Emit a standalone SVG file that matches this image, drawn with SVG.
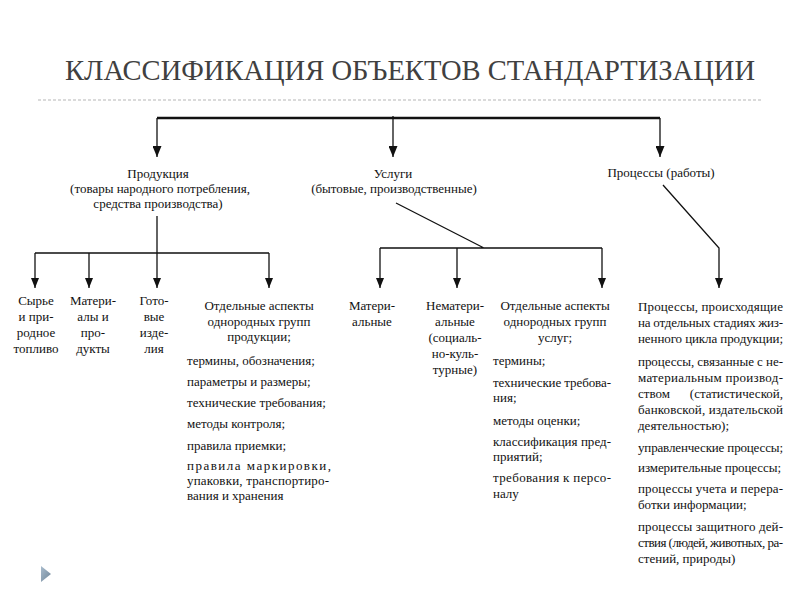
<svg xmlns="http://www.w3.org/2000/svg" width="800" height="600" viewBox="0 0 800 600">
<style>
.t{font-family:"Liberation Serif","DejaVu Serif","Noto Serif",serif;font-size:13px;fill:#111}
.c{text-anchor:middle}
.ttl{font-family:"Liberation Serif","DejaVu Serif","Noto Serif",serif;font-size:30px;fill:#404040}
.ln{stroke:#111;fill:none;stroke-width:1.3}
.bold{stroke-width:2.4}
</style>
<defs>
<marker id="ah" viewBox="0 0 10 8" refX="10" refY="4" markerWidth="10" markerHeight="8" markerUnits="userSpaceOnUse" orient="auto">
<path d="M0,0 L10,4 L0,8 Z" fill="#111"/>
</marker>
<marker id="ahb" viewBox="0 0 11 9" refX="11" refY="4.5" markerWidth="11" markerHeight="9" markerUnits="userSpaceOnUse" orient="auto">
<path d="M0,0 L11,4.5 L0,9 Z" fill="#111"/>
</marker>
<linearGradient id="tri" x1="0" y1="0" x2="1" y2="1">
<stop offset="0" stop-color="#a9bccd"/>
<stop offset="1" stop-color="#6f8598"/>
</linearGradient>
</defs>
<rect width="800" height="600" fill="#fff"/>

<g id="title">
<text class="ttl" x="65" y="80" textLength="690" lengthAdjust="spacingAndGlyphs">КЛАССИФИКАЦИЯ ОБЪЕКТОВ СТАНДАРТИЗАЦИИ</text>
<line x1="38" y1="100" x2="762" y2="100" stroke="#b5b5b5" stroke-width="1" stroke-dasharray="3,2"/>
</g>

<g id="connectors">
<path class="ln bold" d="M157,118 H660"/>
<path class="ln" stroke-width="2" d="M157,118 V157" marker-end="url(#ahb)"/>
<path class="ln" stroke-width="2" d="M393,116 V157" marker-end="url(#ahb)"/>
<path class="ln" stroke-width="2" d="M660,118 V157" marker-end="url(#ahb)"/>

<path class="ln" d="M157,216 V253 M35,253 H269"/>
<path class="ln" d="M35,253 V288" marker-end="url(#ah)"/>
<path class="ln" d="M89,253 V288" marker-end="url(#ah)"/>
<path class="ln" d="M157,253 V288" marker-end="url(#ah)"/>
<path class="ln" d="M269,253 V288" marker-end="url(#ah)"/>

<path class="ln" d="M396,203 L484,248 M380,248 H602"/>
<path class="ln" d="M380,248 V288" marker-end="url(#ah)"/>
<path class="ln" d="M457,248 V288" marker-end="url(#ah)"/>
<path class="ln" d="M602,248 V288" marker-end="url(#ah)"/>

<path class="ln" d="M663,185 L719,248 V288" marker-end="url(#ah)"/>
</g>

<g id="node-produkciya">
<text class="t c" x="158" y="178">Продукция</text>
<text class="t c" x="160" y="193">(товары народного потребления,</text>
<text class="t c" x="158" y="208">средства производства)</text>
</g>

<g id="node-uslugi">
<text class="t c" x="393" y="178">Услуги</text>
<text class="t c" x="394" y="193">(бытовые, производственные)</text>
</g>

<g id="node-processy">
<text class="t c" x="661" y="177">Процессы (работы)</text>
</g>

<g id="node-syrye">
<text class="t c" x="36" y="305">Сырье</text>
<text class="t c" x="36" y="321">и при-</text>
<text class="t c" x="36" y="337">родное</text>
<text class="t c" x="36" y="353">топливо</text>
</g>

<g id="node-materialy">
<text class="t c" x="93" y="305">Матери-</text>
<text class="t c" x="93" y="321">алы и</text>
<text class="t c" x="93" y="337">про-</text>
<text class="t c" x="93" y="353">дукты</text>
</g>

<g id="node-gotovye">
<text class="t c" x="154" y="305">Гото-</text>
<text class="t c" x="154" y="321">вые</text>
<text class="t c" x="154" y="337">изде-</text>
<text class="t c" x="154" y="353">лия</text>
</g>

<g id="node-aspekty-produkcii">
<text class="t c" x="259" y="310">Отдельные аспекты</text>
<text class="t c" x="259" y="326">однородных групп</text>
<text class="t c" x="259" y="341">продукции;</text>
<text class="t" x="187" y="365">термины, обозначения;</text>
<text class="t" x="187" y="386">параметры и размеры;</text>
<text class="t" x="187" y="407">технические требования;</text>
<text class="t" x="187" y="428">методы контроля;</text>
<text class="t" x="187" y="450">правила приемки;</text>
<text class="t" x="187" y="470" textLength="144">правила маркировки,</text>
<text class="t" x="187" y="485" textLength="142">упаковки, транспортиро-</text>
<text class="t" x="187" y="500">вания и хранения</text>
</g>

<g id="node-materialnye">
<text class="t c" x="372" y="310">Матери-</text>
<text class="t c" x="372" y="326">альные</text>
</g>

<g id="node-nematerialnye">
<text class="t c" x="455" y="310">Нематери-</text>
<text class="t c" x="455" y="326">альные</text>
<text class="t c" x="455" y="342">(социаль-</text>
<text class="t c" x="455" y="358">но-куль-</text>
<text class="t c" x="455" y="374">турные)</text>
</g>

<g id="node-aspekty-uslug">
<text class="t c" x="555" y="310">Отдельные аспекты</text>
<text class="t c" x="555" y="326">однородных групп</text>
<text class="t c" x="555" y="342">услуг;</text>
<text class="t" x="493" y="365">термины;</text>
<text class="t" x="493" y="387" textLength="118">технические требова-</text>
<text class="t" x="493" y="402">ния;</text>
<text class="t" x="493" y="425">методы оценки;</text>
<text class="t" x="493" y="446" textLength="118">классификация пред-</text>
<text class="t" x="493" y="461">приятий;</text>
<text class="t" x="493" y="482" textLength="118">требования к персо-</text>
<text class="t" x="493" y="498">налу</text>
</g>

<g id="node-processy-list">
<text class="t" x="638" y="311" textLength="145">Процессы, происходящие</text>
<text class="t" x="638" y="327" textLength="145">на отдельных стадиях жиз-</text>
<text class="t" x="638" y="343" textLength="145">ненного цикла продукции;</text>
<text class="t" x="638" y="366" textLength="145">процессы, связанные с не-</text>
<text class="t" x="638" y="382" textLength="145">материальным производ-</text>
<text class="t" x="638" y="398">ством</text>
<text class="t" x="783" y="398" text-anchor="end">(статистической,</text>
<text class="t" x="638" y="414" textLength="145">банковской, издательской</text>
<text class="t" x="638" y="430">деятельностью);</text>
<text class="t" x="638" y="452" textLength="145">управленческие процессы;</text>
<text class="t" x="638" y="472" textLength="143">измерительные процессы;</text>
<text class="t" x="638" y="493" textLength="145">процессы учета и перера-</text>
<text class="t" x="638" y="509">ботки информации;</text>
<text class="t" x="638" y="531" textLength="145">процессы защитного дей-</text>
<text class="t" x="638" y="547" textLength="145">ствия (людей, животных, ра-</text>
<text class="t" x="638" y="563">стений, природы)</text>
</g>

<polygon points="41,566 51,574 41,582" fill="url(#tri)"/>
</svg>
